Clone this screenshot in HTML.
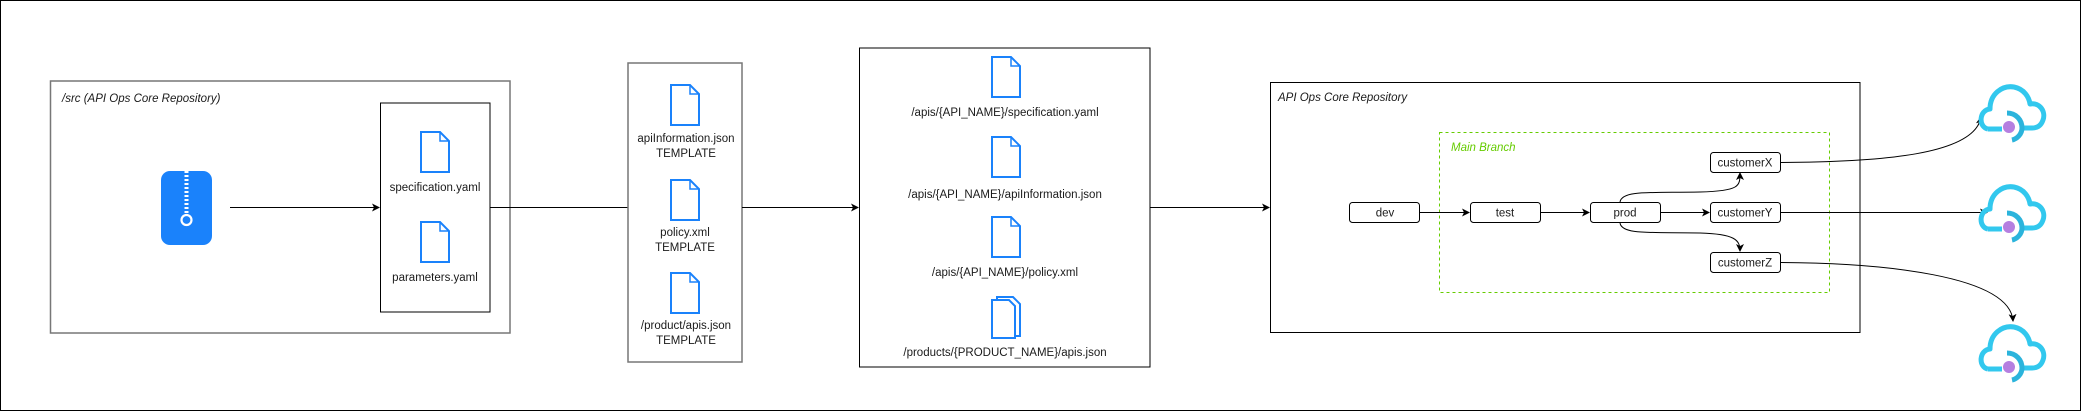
<!DOCTYPE html>
<html><head><meta charset="utf-8"><style>
html,body{margin:0;padding:0;background:#fff;}
svg{display:block;}
text{font-family:"Liberation Sans",Arial,sans-serif;font-size:11.5px;fill:#1a1a1a;}
</style></head><body>
<svg width="2081" height="411" viewBox="0 0 2081 411" xmlns="http://www.w3.org/2000/svg">
<defs>
<marker id="a" markerWidth="8" markerHeight="8" refX="7" refY="4" orient="auto" markerUnits="userSpaceOnUse"><path d="M0,0 L8,4 L0,8 L2,4 Z" fill="#000"/></marker>
<g id="doc"><path d="M1,1 H20 L29,10 V41 H1 Z" fill="#fff" stroke="#1a82fb" stroke-width="2"/><path d="M20,1 V10 H29" fill="none" stroke="#1a82fb" stroke-width="1.5"/></g>
<g id="cloud">
<path d="M8,47 C-2,45 -1,28 10,27 C10,12 22,3 34,5 C44,7 49,15 50,22 C60,20 66,30 63,38 C61,44 57,46 52,46 L41,46" fill="none" stroke="#32c8ee" stroke-width="5" stroke-linejoin="round"/>
<path d="M27,31 C36,31 42,38 42,46 C42,52 37,57 32,58" fill="none" stroke="#2bb4dc" stroke-width="5"/>
<path d="M8,47 L22,47" stroke="#32c8ee" stroke-width="5"/>
<circle cx="29" cy="45" r="6" fill="#b57fe0"/>
</g>
</defs>
<rect x="0.5" y="0.5" width="2080" height="410" fill="#fff" stroke="#000" stroke-width="1"/>

<rect x="50.5" y="81" width="459.5" height="252" fill="none" stroke="#777" stroke-width="1.5"/>
<text x="62" y="102" font-style="italic">/src (API Ops Core Repository)</text>
<rect x="161" y="171" width="51" height="74" rx="9" fill="#1a82fb"/>
<line x1="186.5" y1="171" x2="186.5" y2="216" stroke="#fff" stroke-width="4" stroke-dasharray="2,2"/>
<circle cx="186.5" cy="220" r="5" fill="none" stroke="#fff" stroke-width="2.2"/>
<line x1="230" y1="207.5" x2="379" y2="207.5" stroke="#000" marker-end="url(#a)"/>
<rect x="380.5" y="103" width="109.5" height="209" fill="#fff" stroke="#000"/>
<use href="#doc" x="420" y="131"/>
<text x="435" y="191" text-anchor="middle">specification.yaml</text>
<use href="#doc" x="420" y="221"/>
<text x="435" y="281" text-anchor="middle">parameters.yaml</text>
<line x1="490" y1="207.5" x2="628" y2="207.5" stroke="#000"/>

<rect x="628" y="63" width="114" height="299" fill="#fff" stroke="#777" stroke-width="1.5"/>
<use href="#doc" x="670" y="84"/>
<text x="686" y="142" text-anchor="middle">apiInformation.json</text>
<text x="686" y="157" text-anchor="middle">TEMPLATE</text>
<use href="#doc" x="670" y="179"/>
<text x="685" y="236" text-anchor="middle">policy.xml</text>
<text x="685" y="251" text-anchor="middle">TEMPLATE</text>
<use href="#doc" x="670" y="272"/>
<text x="686" y="329" text-anchor="middle">/product/apis.json</text>
<text x="686" y="344" text-anchor="middle">TEMPLATE</text>
<line x1="742" y1="207.5" x2="858" y2="207.5" stroke="#000" marker-end="url(#a)"/>

<rect x="859.5" y="48" width="290.5" height="319" fill="#fff" stroke="#000"/>
<use href="#doc" x="991" y="56"/>
<text x="1005" y="116" text-anchor="middle">/apis/{API_NAME}/specification.yaml</text>
<use href="#doc" x="991" y="136"/>
<text x="1005" y="198" text-anchor="middle">/apis/{API_NAME}/apiInformation.json</text>
<use href="#doc" x="991" y="216"/>
<text x="1005" y="276" text-anchor="middle">/apis/{API_NAME}/policy.xml</text>
<g transform="translate(991,296)">
<path d="M6,1 H22 L29,8 V40 H6 Z" fill="#fff" stroke="#1a82fb" stroke-width="2"/>
<path d="M1,4 H18 L24,10 V42 H1 Z" fill="#fff" stroke="#1a82fb" stroke-width="2"/>
</g>
<text x="1005" y="356" text-anchor="middle">/products/{PRODUCT_NAME}/apis.json</text>
<line x1="1150" y1="207.5" x2="1269" y2="207.5" stroke="#000" marker-end="url(#a)"/>

<rect x="1270.5" y="82.5" width="589.5" height="250" fill="#fff" stroke="#000"/>
<text x="1278" y="101" font-style="italic">API Ops Core Repository</text>
<rect x="1439.5" y="132.5" width="390" height="160" fill="none" stroke="#66cc00" stroke-dasharray="3,3"/>
<text x="1451" y="151" font-style="italic" style="fill:#66cc00">Main Branch</text>

<g fill="#fff" stroke="#000">
<rect x="1349.5" y="202.5" width="70" height="20" rx="3"/>
<rect x="1470.5" y="202.5" width="70" height="20" rx="3"/>
<rect x="1590.5" y="202.5" width="70" height="20" rx="3"/>
<rect x="1710.5" y="152.5" width="70" height="20" rx="3"/>
<rect x="1710.5" y="202.5" width="70" height="20" rx="3"/>
<rect x="1710.5" y="252.5" width="70" height="20" rx="3"/>
</g>
<text x="1385" y="216.5" text-anchor="middle">dev</text>
<text x="1505" y="216.5" text-anchor="middle">test</text>
<text x="1625" y="216.5" text-anchor="middle">prod</text>
<text x="1745" y="166.5" text-anchor="middle">customerX</text>
<text x="1745" y="216.5" text-anchor="middle">customerY</text>
<text x="1745" y="266.5" text-anchor="middle">customerZ</text>

<g fill="none" stroke="#000">
<line x1="1420" y1="212.5" x2="1469" y2="212.5" marker-end="url(#a)"/>
<line x1="1541" y1="212.5" x2="1589" y2="212.5" marker-end="url(#a)"/>
<line x1="1661" y1="212.5" x2="1709" y2="212.5" marker-end="url(#a)"/>
<path d="M1620,202 C1622,190 1650,193 1700,192 C1740,191 1740,186 1740,173" marker-end="url(#a)"/>
<path d="M1620,223 C1622,235 1650,232 1700,233 C1735,234 1740,240 1740,251" marker-end="url(#a)"/>
<path d="M1781,162.5 C1880,162 1975,155 1981,117" marker-end="url(#a)"/>
<line x1="1781" y1="212.5" x2="1987" y2="212.5" marker-end="url(#a)"/>
<path d="M1781,262.5 C1880,263 2010,275 2013,321" marker-end="url(#a)"/>
</g>

<use href="#cloud" x="1980" y="82"/>
<use href="#cloud" x="1980" y="182"/>
<use href="#cloud" x="1980" y="322"/>
</svg>
</body></html>
